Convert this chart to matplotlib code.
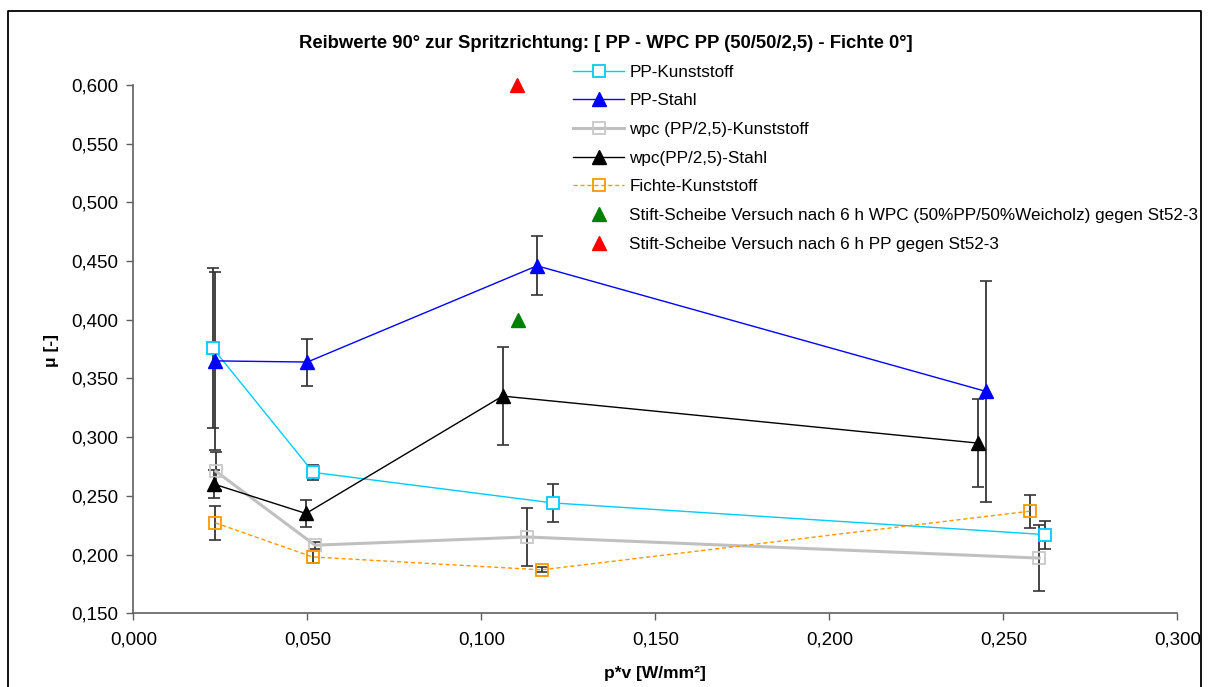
import matplotlib
matplotlib.use('Agg')
import matplotlib.pyplot as plt
from matplotlib.ticker import FuncFormatter, MultipleLocator
from matplotlib.patches import Rectangle
from matplotlib.lines import Line2D

plt.rcParams['font.family'] = ['Liberation Sans', 'DejaVu Sans']

# p*v [W/mm²] and mean friction with +/- deviation per series
pp_k_x = [0.0228, 0.0517, 0.1206, 0.2621]
pp_k_y = [0.376, 0.270, 0.244, 0.217]
pp_k_err = [0.068, 0.0065, 0.016, 0.012]

pp_s_x = [0.0234, 0.0500, 0.1160, 0.2450]
pp_s_y = [0.365, 0.364, 0.446, 0.339]
pp_s_err = [0.076, 0.020, 0.025, 0.094]

wpc_k_x = [0.0237, 0.0522, 0.1130, 0.2603]
wpc_k_y = [0.271, 0.208, 0.215, 0.197]
wpc_k_err = [0.016, 0.003, 0.025, 0.028]

wpc_s_x = [0.0232, 0.0496, 0.1061, 0.2426]
wpc_s_y = [0.260, 0.235, 0.335, 0.295]
wpc_s_err = [0.012, 0.0115, 0.0415, 0.0376]

fi_k_x = [0.0236, 0.0515, 0.1173, 0.2577]
fi_k_y = [0.227, 0.198, 0.187, 0.237]
fi_k_err = [0.0145, 0.005, 0.002, 0.014]

pin_wpc_x = [0.1106]
pin_wpc_y = [0.400]
pin_pp_x = [0.1103]
pin_pp_y = [0.600]

fig = plt.figure(figsize=(12.08, 6.87), dpi=100)
ax = fig.add_axes([0.1104, 0.1073, 0.8642, 0.7690])

err_kw = dict(fmt='none', ecolor='#353535', elinewidth=1.3, capsize=4, capthick=1.2, zorder=2)
for xs, ys, es in [(pp_k_x, pp_k_y, pp_k_err), (pp_s_x, pp_s_y, pp_s_err),
                   (wpc_k_x, wpc_k_y, wpc_k_err), (wpc_s_x, wpc_s_y, wpc_s_err),
                   (fi_k_x, fi_k_y, fi_k_err)]:
    ax.errorbar(xs, ys, yerr=es, **err_kw)

ax.plot(pp_k_x, pp_k_y, color='#00CCFF', lw=1, marker='s', ms=8, mfc='white',
        mec='#00CCFF', mew=1.3, label='PP-Kunststoff', zorder=4)
ax.plot(pp_s_x, pp_s_y, color='#0000FF', lw=1, marker='^', ms=10, mfc='#0000FF',
        mec='#0000FF', label='PP-Stahl', zorder=4)
ax.plot(wpc_k_x, wpc_k_y, color='#C0C0C0', lw=2.2, marker='s', ms=8, mfc='none',
        mec='#C8C8C8', mew=1.3, label='wpc (PP/2,5)-Kunststoff', zorder=3)
ax.plot(wpc_s_x, wpc_s_y, color='black', lw=1, marker='^', ms=10, mfc='black',
        mec='black', label='wpc(PP/2,5)-Stahl', zorder=4)
ax.plot(fi_k_x, fi_k_y, color='#FF9900', lw=1, ls=(0, (3, 2)), marker='s', ms=8,
        mfc='none', mec='#FF9900', mew=1.3, label='Fichte-Kunststoff', zorder=4)
ax.plot(pin_wpc_x, pin_wpc_y, ls='none', marker='^', ms=10, color='#008000',
        label='Stift-Scheibe Versuch nach 6 h WPC (50%PP/50%Weicholz) gegen St52-3',
        zorder=4, clip_on=False)
ax.plot(pin_pp_x, pin_pp_y, ls='none', marker='^', ms=10, color='#FF0000',
        label='Stift-Scheibe Versuch nach 6 h PP gegen St52-3', zorder=4, clip_on=False)

ax.set_xlim(0, 0.3)
ax.set_ylim(0.15, 0.6)
ax.xaxis.set_major_locator(MultipleLocator(0.05))
ax.yaxis.set_major_locator(MultipleLocator(0.05))
comma = FuncFormatter(lambda v, p: ('%.3f' % v).replace('.', ','))
ax.xaxis.set_major_formatter(comma)
ax.yaxis.set_major_formatter(comma)
ax.tick_params(direction='out', length=5, width=1, color='#606060', labelsize=13.5, pad=6)
ax.tick_params(axis='x', pad=8)
for side in ['top', 'right']:
    ax.spines[side].set_visible(False)
for side in ['left', 'bottom']:
    ax.spines[side].set_color('#606060')
    ax.spines[side].set_linewidth(1.2)

fig.text(0.5017, 0.937, 'Reibwerte 90° zur Spritzrichtung: [ PP - WPC PP (50/50/2,5) - Fichte 0°]',
         ha='center', va='center', fontsize=13.3, fontweight='bold',
         family=['Liberation Sans Narrow', 'Liberation Sans', 'DejaVu Sans'])
fig.text(0.0425, 0.49, 'μ [-]', rotation=90, ha='center', va='center', fontsize=12.5,
         fontweight='bold')
fig.text(0.542, 0.020, 'p*v [W/mm²]', ha='center', va='center', fontsize=12.5,
         fontweight='bold')

leg = fig.legend(loc='upper left', bbox_to_anchor=(0.469, 0.916), frameon=False,
                 fontsize=12.3, numpoints=1, handlelength=2.95, handletextpad=0.33,
                 labelspacing=0.8, borderaxespad=0)

# chart frame; right edge cuts off anything beyond it
fig.add_artist(Rectangle((1202 / 1208, 0), 1, 1, transform=fig.transFigure,
                         facecolor='white', edgecolor='none', zorder=10))
fig.add_artist(Line2D([8 / 1208, 8 / 1208, 1201 / 1208, 1201 / 1208],
                      [-0.01, 1 - 11 / 687, 1 - 11 / 687, -0.01],
                      transform=fig.transFigure, color='black', lw=1.3, zorder=11))

fig.savefig('out.png', dpi=100)
